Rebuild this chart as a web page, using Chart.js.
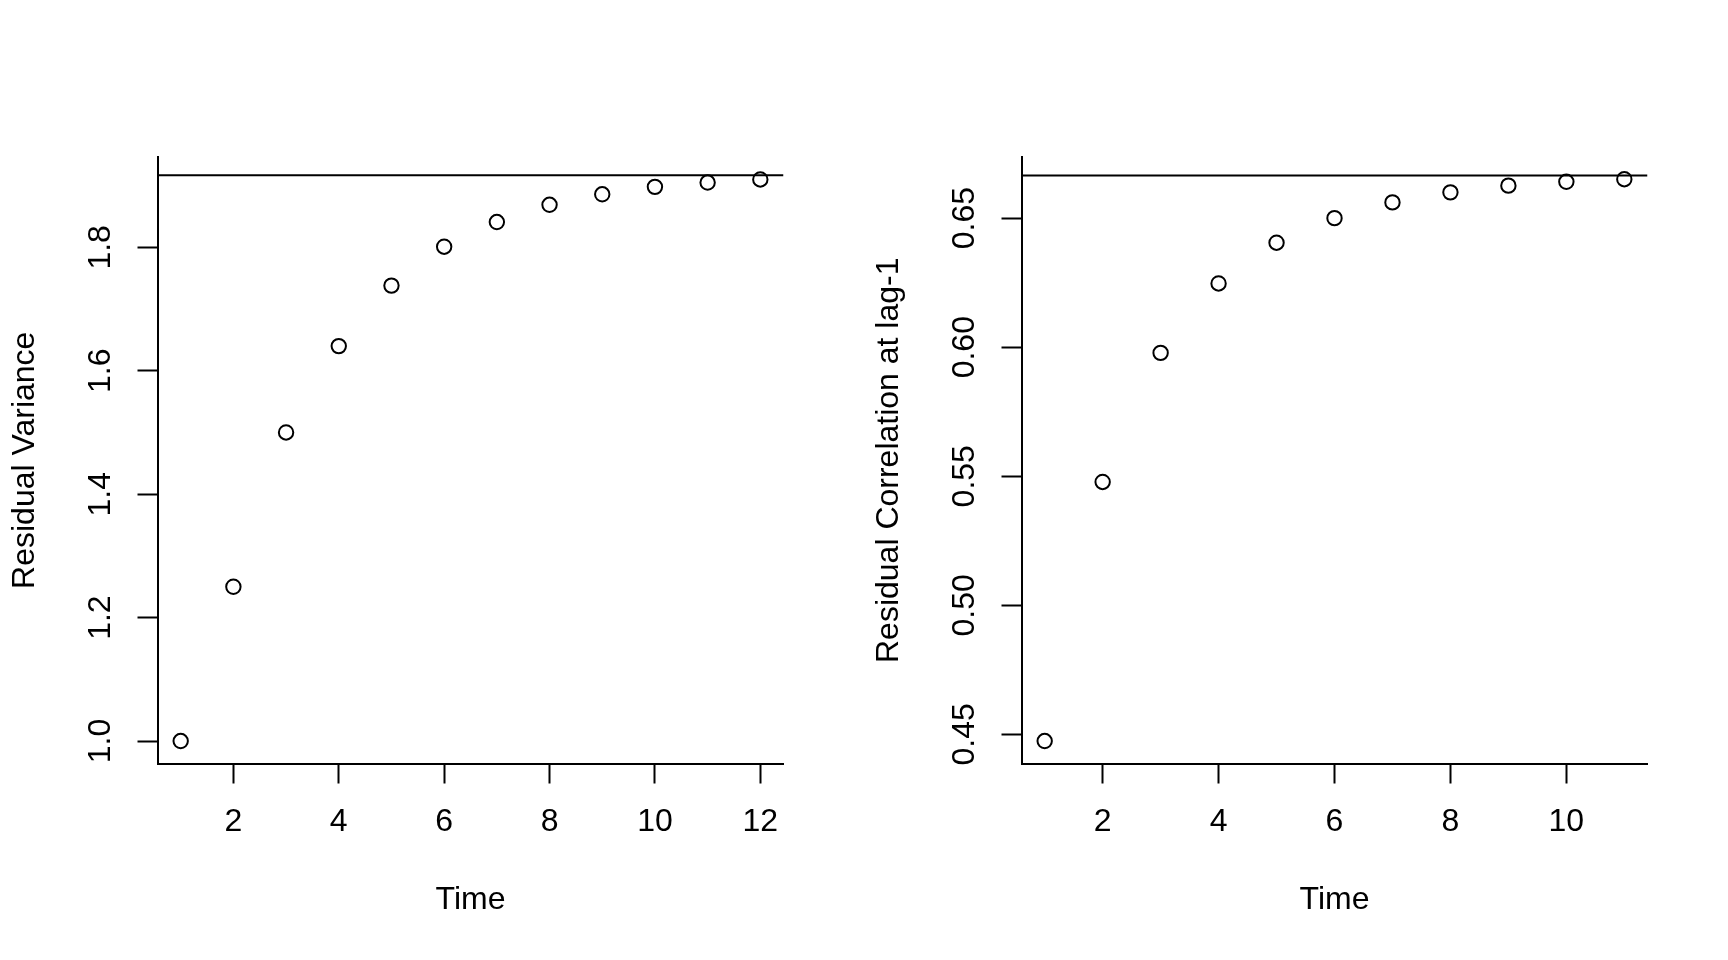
<!DOCTYPE html>
<html>
<head>
<meta charset="utf-8">
<script src="https://cdn.jsdelivr.net/npm/chart.js@4.4.1/dist/chart.umd.min.js"></script>
<style>
  html, body { margin: 0; padding: 0; background: #fff; }
  .row { display: flex; width: 1728px; height: 960px; }
  canvas { display: block; }
</style>
</head>
<body>
<div class="row">
  <canvas id="varChart" width="864" height="960"></canvas>
  <canvas id="corChart" width="864" height="960"></canvas>
</div>
<script>
// Left panel: residual variance over time
const varTime   = [1, 2, 3, 4, 5, 6, 7, 8, 9, 10, 11, 12];
const varValues = [1.000, 1.250, 1.500, 1.640, 1.738, 1.801, 1.841, 1.869, 1.886, 1.898, 1.905, 1.910];
const varLimit  = 1.917;
const varXTicks = [2, 4, 6, 8, 10, 12];
const varYTicks = [1.0, 1.2, 1.4, 1.6, 1.8];
const varXRange = [0.56, 12.44];
const varYRange = [0.9636, 1.9464];

// Right panel: residual correlation at lag 1
const corTime   = [1, 2, 3, 4, 5, 6, 7, 8, 9, 10, 11];
const corValues = [0.4474, 0.5478, 0.5978, 0.6247, 0.6405, 0.6500, 0.6561, 0.6600, 0.6626, 0.6641, 0.6651];
const corLimit  = 0.6665;
const corXTicks = [2, 4, 6, 8, 10];
const corYTicks = [0.45, 0.50, 0.55, 0.60, 0.65];
const corXRange = [0.6, 11.4];
const corYRange = [0.4387, 0.6737];

const FONT = '"Liberation Sans", Arial, Helvetica, sans-serif';
const INK = '#000';

function drawPanel(canvasId, xs, ys, limit, o) {
  const ctx = document.getElementById(canvasId);
  if (!ctx) return;
  const pts = xs.map((x, i) => ({ x, y: ys[i] }));
  const axisBase = {
    type: 'linear',
    border: { display: true, color: INK, width: 2 },
    grid: { display: true, drawOnChartArea: false, drawTicks: true, tickLength: 20, tickWidth: 2, tickColor: INK },
  };
  return new Chart(ctx, {
    data: {
      datasets: [
        {
          type: 'line',
          data: [{ x: o.xRange[0], y: limit }, { x: o.xRange[1], y: limit }],
          borderColor: INK, borderWidth: 2, pointRadius: 0, fill: false, tension: 0,
        },
        {
          type: 'scatter',
          data: pts,
          pointStyle: 'circle', pointRadius: 7.2, pointHoverRadius: 7.2,
          borderColor: INK, borderWidth: 2, backgroundColor: 'rgba(0,0,0,0)',
        },
      ],
    },
    options: {
      responsive: false, animation: false, events: [],
      layout: { padding: { left: 0, top: 157, right: 80.5, bottom: 0 } },
      plugins: { legend: { display: false }, tooltip: { enabled: false } },
      scales: {
        x: {
          ...axisBase,
          position: 'bottom',
          min: o.xRange[0], max: o.xRange[1],
          afterBuildTicks: s => { s.ticks = o.xTicks.map(v => ({ value: v })); },
          afterFit: s => { s.height = 196.5; },
          ticks: { color: INK, padding: 19.8, font: { family: FONT, size: 32 }, maxRotation: 0, autoSkip: false },
          title: { display: true, text: 'Time', color: INK, font: { family: FONT, size: 32 }, padding: { top: 0, bottom: 41 } },
        },
        y: {
          ...axisBase,
          position: 'left',
          min: o.yRange[0], max: o.yRange[1],
          afterBuildTicks: s => { s.ticks = o.yTicks.map(v => ({ value: v })); },
          afterFit: s => { s.width = 157.5; },
          ticks: {
            color: INK, padding: o.yPad, crossAlign: 'center', minRotation: 90, maxRotation: 90,
            font: { family: FONT, size: 32 }, autoSkip: false,
            callback: v => v.toFixed(o.digits),
          },
          title: { display: true, text: o.yTitle, color: INK, font: { family: FONT, size: 32 }, padding: { top: 6, bottom: 0 } },
        },
      },
    },
  });
}

drawPanel('varChart', varTime, varValues, varLimit, {
  xRange: varXRange, yRange: varYRange, xTicks: varXTicks, yTicks: varYTicks,
  digits: 1, yPad: 14, yTitle: 'Residual Variance',
});

drawPanel('corChart', corTime, corValues, corLimit, {
  xRange: corXRange, yRange: corYRange, xTicks: corXTicks, yTicks: corYTicks,
  digits: 2, yPad: 5.5, yTitle: 'Residual Correlation at lag-1',
});
</script>
</body>
</html>
